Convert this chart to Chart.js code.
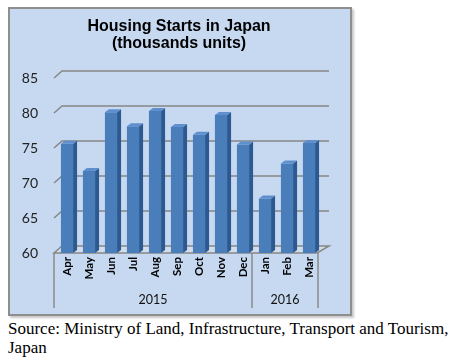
<!DOCTYPE html>
<html>
<head>
<meta charset="utf-8">
<script src="https://cdn.jsdelivr.net/npm/chart.js@4.4.1/dist/chart.umd.min.js"></script>
<style>
  body { margin: 0; background: #fff; width: 457px; height: 362px; position: relative; overflow: hidden; }
  .frame {
    position: absolute; left: 8px; top: 7px; width: 340px; height: 305px;
    background: #c6d9f1; border: 2px solid #8e8e8e;
    box-shadow: 2px 2px 2px #c8c8c8;
  }
  .wrap { position: absolute; left: 0; top: 0; width: 360px; height: 318px; }
  .source {
    position: absolute; left: 8px; top: 319px; width: 449px;
    font-family: "Liberation Serif", "Times New Roman", serif; font-size: 17px; line-height: 19px; color: #000;
  }
</style>
</head>
<body>
<div class="frame"></div>
<div class="wrap"><canvas id="myChart" width="360" height="318"></canvas></div>
<div class="source">Source: Ministry of Land, Infrastructure, Transport and Tourism, Japan</div>

<script>
// data
const months = ['Apr', 'May', 'Jun', 'Jul', 'Aug', 'Sep', 'Oct', 'Nov', 'Dec', 'Jan', 'Feb', 'Mar'];
const starts = [75.6, 71.7, 80.1, 78.1, 80.3, 78.0, 76.9, 79.7, 75.5, 67.8, 72.8, 75.7];
const years = ['2015', '2016'];
const monthsPerYear = [9, 3];
const yTicks = [60, 65, 70, 75, 80, 85];

const dx = 8, dy = 7;   // depth of the fake 3d

// grid lines + floor drawn with a little perspective
const gridPlugin = {
  id: 'grid3d',
  beforeDatasetsDraw(chart) {
    const ctx = chart.ctx;
    const y = chart.scales.y;
    const area = chart.chartArea;
    ctx.save();
    ctx.strokeStyle = '#868686';
    ctx.lineWidth = 1.5;
    yTicks.forEach(v => {
      if (v == yTicks[0]) return;
      let py = y.getPixelForValue(v);
      ctx.beginPath();
      ctx.moveTo(area.left - 2, py);
      ctx.lineTo(area.left - 2 + dx, py - dy);
      ctx.lineTo(area.right + 9, py - dy);
      ctx.stroke();
    });
    // floor
    let p0 = y.getPixelForValue(yTicks[0]);
    ctx.fillStyle = '#d3dde9';
    ctx.beginPath();
    ctx.moveTo(area.left - 2, p0);
    ctx.lineTo(area.left - 2 + dx, p0 - dy);
    ctx.lineTo(area.right + 9, p0 - dy);
    ctx.lineTo(area.right - 3, p0);
    ctx.closePath();
    ctx.fill();
    ctx.stroke();
    ctx.restore();
  },
  afterDatasetsDraw(chart) {
    const ctx = chart.ctx;
    const meta = chart.getDatasetMeta(0);
    const bottom = chart.chartArea.bottom;
    ctx.save();
    meta.data.forEach(bar => {
      const w = bar.width, x = bar.x, top = bar.y;
      const base = Math.min(bar.base, bottom);   // base pixel is for 0, keep it on the floor
      const d = 4, h = 3;
      // side face
      ctx.fillStyle = '#2c5a90';
      ctx.beginPath();
      ctx.moveTo(x + w / 2, top);
      ctx.lineTo(x + w / 2 + d, top - h);
      ctx.lineTo(x + w / 2 + d, base - h);
      ctx.lineTo(x + w / 2, base);
      ctx.closePath();
      ctx.fill();
      // top face
      ctx.fillStyle = '#5f8fcc';
      ctx.beginPath();
      ctx.moveTo(x - w / 2, top);
      ctx.lineTo(x - w / 2 + d, top - h);
      ctx.lineTo(x + w / 2 + d, top - h);
      ctx.lineTo(x + w / 2, top);
      ctx.closePath();
      ctx.fill();
    });
    ctx.restore();
  },
  afterDraw(chart) {
    // year group labels and separators under the month labels
    const ctx = chart.ctx;
    const xs = chart.scales.x;
    const area = chart.chartArea;
    const half = (xs.getPixelForValue(1) - xs.getPixelForValue(0)) / 2;
    ctx.save();
    ctx.strokeStyle = '#8a8a8a';
    ctx.lineWidth = 1.5;
    ctx.fillStyle = '#111';
    ctx.font = '12.5px Lato';
    ctx.textAlign = 'center';
    ctx.textBaseline = 'middle';
    let start = 0;
    const lineTop = area.bottom, lineBot = area.bottom + 55;
    let leftEdge = xs.getPixelForValue(0) - half - 2;
    ctx.beginPath(); ctx.moveTo(leftEdge, lineTop); ctx.lineTo(leftEdge, lineBot); ctx.stroke();
    years.forEach((yr, i) => {
      const end = start + monthsPerYear[i] - 1;
      const l = xs.getPixelForValue(start) - half - 2;
      const r = xs.getPixelForValue(end) + half - 2;
      ctx.beginPath(); ctx.moveTo(r, lineTop); ctx.lineTo(r, lineBot); ctx.stroke();
      ctx.fillText(yr, (l + r) / 2, area.bottom + 47);
      start = end + 1;
    });
    ctx.restore();
  }
};

const ctx = document.getElementById('myChart');

new Chart(ctx, {
  type: 'bar',
  data: {
    labels: months,
    datasets: [{
      label: 'Housing starts',
      data: starts,
      backgroundColor: '#4a7ebb',
      borderWidth: 0,
      barPercentage: 0.6,
      categoryPercentage: 0.92
    }]
  },
  options: {
    responsive: false,
    animation: false,
    layout: { padding: { left: 0, right: 2, top: 0, bottom: 0 } },
    plugins: {
      legend: { display: false },
      tooltip: { enabled: false },
      title: {
        display: true,
        text: ['Housing Starts in Japan', '(thousands units)'],
        color: '#000',
        font: { family: 'Liberation Sans', size: 16, weight: 'bold', lineHeight: 1.0625 },
        padding: { top: 18.5, bottom: 25.5 }
      }
    },
    scales: {
      x: {
        grid: { display: false, drawTicks: false },
        border: { display: false },
        ticks: {
          minRotation: 90, maxRotation: 90, padding: 4,
          color: '#000', font: { family: 'Lato', size: 11.5, weight: 'bold' }
        },
        afterFit: s => { s.height = 65; }
      },
      y: {
        min: 60, max: 85,
        grid: { display: false, drawTicks: false },
        border: { display: false },
        ticks: {
          stepSize: 5, padding: 18,
          color: '#222', font: { family: 'Lato', size: 14 }
        },
        afterFit: s => { s.width = 56; }
      },
      // empty right axis, only to leave room for the 3d depth
      yRight: {
        position: 'right',
        min: 60, max: 85,
        grid: { display: false },
        border: { display: false },
        ticks: { display: false },
        afterFit: s => { s.width = 38; }
      }
    }
  },
  plugins: [gridPlugin]
});
</script>
</body>
</html>
